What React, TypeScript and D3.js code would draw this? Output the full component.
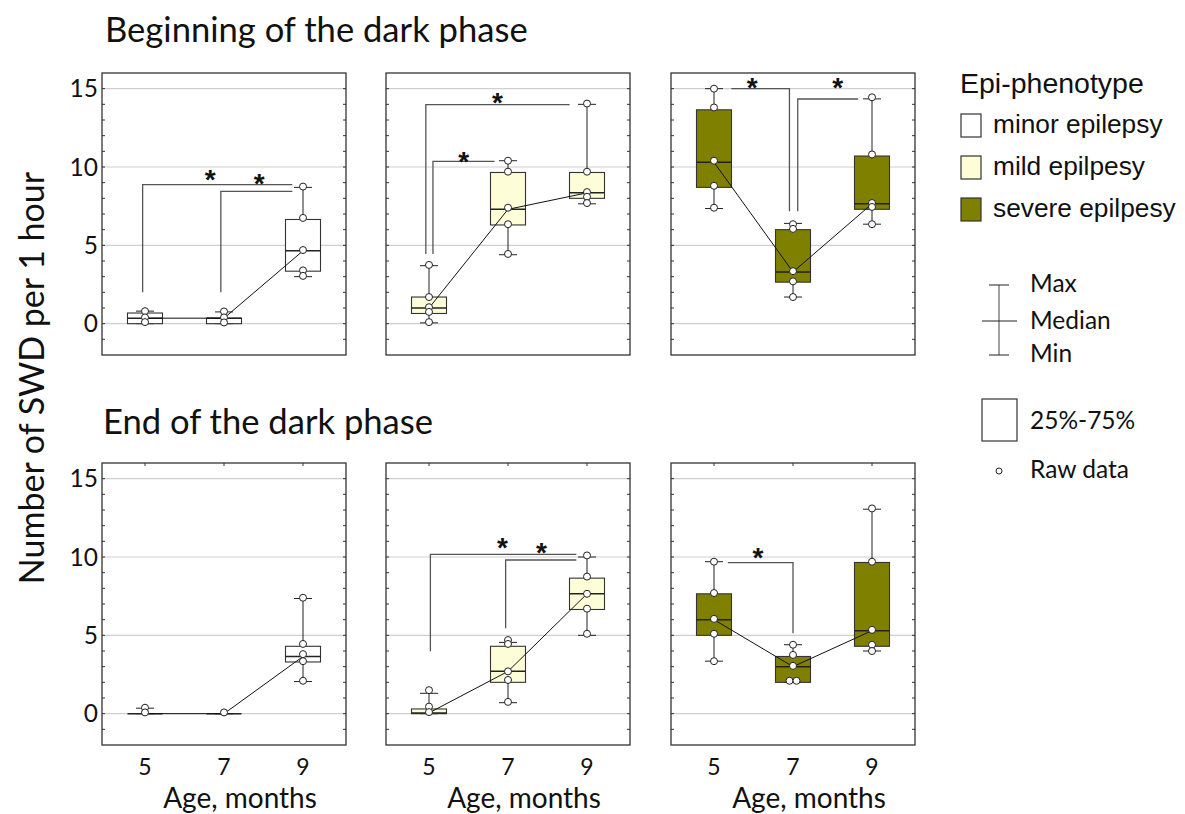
import React from 'react';
import * as d3 from 'd3';

// ages on the x axis and the group names
const ages = [5, 7, 9];
const phaseTitles = ['Beginning of the dark phase', 'End of the dark phase'];
const phenotypes = ['minor epilepsy', 'mild epilpesy', 'severe epilpesy'];
const phenoFills = ['#ffffff', '#fdfdd8', '#808000'];
const yTicks = [0, 5, 10, 15];

// box stats per age: [min, q1, median, q3, max]
const beginStats = [
  [[0, 0, 0.35, 0.68, 0.8], [0, 0, 0.35, 0.35, 0.75], [3.0, 3.35, 4.65, 6.65, 8.7]],
  [[0.05, 0.65, 1.0, 1.7, 3.7], [4.4, 6.3, 7.3, 9.65, 10.4], [7.65, 8.0, 8.35, 9.65, 14.0]],
  [[7.35, 8.7, 10.3, 13.65, 15.0], [1.7, 2.65, 3.3, 6.0, 6.4], [6.35, 7.3, 7.65, 10.7, 14.35]],
];
const endStats = [
  [[0, 0, 0, 0, 0.35], [0, 0, 0, 0, 0], [2.05, 3.3, 3.65, 4.3, 7.35]],
  [[0, 0, 0.05, 0.3, 1.3], [0.7, 2.0, 2.7, 4.3, 4.55], [5.0, 6.65, 7.65, 8.65, 10.0]],
  [[3.35, 5.0, 6.0, 7.65, 9.7], [2.0, 2.0, 3.0, 3.65, 4.4], [4.0, 4.3, 5.3, 9.65, 13.05]],
];

// raw data points per age
const beginRaw = [
  [[0.8, 0.4, 0.1], [0.78, 0.4, 0.08], [8.75, 6.75, 4.7, 3.4, 3.05]],
  [[3.75, 1.7, 1.05, 0.75, 0.1], [10.4, 9.7, 7.4, 6.35, 4.45], [14.05, 9.7, 8.4, 8.1, 7.7]],
  [[15.0, 13.8, 10.4, 8.8, 7.4], [6.35, 6.05, 3.35, 2.7, 1.7], [14.45, 10.8, 7.7, 7.45, 6.35]],
];
const endRaw = [
  [[0.38, 0.08], [0.08], [7.4, 4.45, 3.8, 3.35, 2.1]],
  [[1.5, 0.45, 0.1], [4.7, 4.45, 2.7, 2.15, 0.75], [10.1, 8.75, 7.65, 6.7, 5.1]],
  [[9.7, 7.7, 6.05, 5.1, 3.35], [4.4, 3.75, 3.05, 2.1, 2.1], [13.1, 9.7, 5.35, 4.4, 4.0]],
];

// significance brackets, in (age, value) units
const beginBrackets = [
  [
    { path: [[4.94, 2.0], [4.94, 8.87], [8.73, 8.87]], star: [6.65, 9.62] },
    { path: [[6.92, 2.0], [6.92, 8.45], [8.73, 8.45]], star: [7.89, 9.36] },
  ],
  [
    { path: [[4.92, 4.45], [4.92, 13.98], [8.56, 13.98]], star: [6.73, 14.51] },
    { path: [[5.1, 4.45], [5.1, 10.36], [6.66, 10.36]], star: [5.88, 10.79] },
  ],
  [
    { path: [[5.44, 15.0], [6.91, 15.0], [6.91, 7.17]], star: [5.97, 15.47] },
    { path: [[7.12, 7.17], [7.12, 14.34], [8.65, 14.34]], star: [8.13, 15.47] },
  ],
];
const endBrackets = [
  [],
  [
    { path: [[5.035, 3.98], [5.035, 10.17], [8.73, 10.17]], star: [6.86, 11.02] },
    { path: [[6.94, 5.45], [6.94, 9.81], [8.73, 9.81]], star: [7.85, 10.7] },
  ],
  [
    { path: [[5.35, 9.64], [7.0, 9.64], [7.0, 5.13]], star: [6.11, 10.38] },
  ],
];

const W = 1185;
const H = 814;
const panelLefts = [102, 386, 671];
const panelW = 244;
const panelH = 282;
const rowTops = [73, 463];
const FONT = 'Lato, "Open Sans", sans-serif';
const ARIAL = '"Liberation Sans", Arial, sans-serif';

const Panel = ({ left, top, stats, raw, brackets, fill, showY, showX, topTicks }) => {
  const x = d3.scaleLinear().domain([5, 9]).range([left + 43, left + 201]);
  const y = d3.scaleLinear().domain([-2, 16]).range([top + panelH, top]);
  const minorTicks = d3.range(-1, 16);
  const half = 17.5;
  const cap = 9;
  const line = d3.line().x(d => x(d[0])).y(d => y(d[1]));
  const medianLine = d3.line().x((d, i) => x(ages[i])).y(d => y(d[2]));

  return (
    <g>
      {yTicks.map(t => (
        <line key={'g' + t} x1={left} x2={left + panelW} y1={y(t)} y2={y(t)} stroke="#cfcfcf" strokeWidth={1.2} />
      ))}
      {minorTicks.map(t => (
        <g key={'m' + t}>
          <line x1={left} x2={left + 3} y1={y(t)} y2={y(t)} stroke="#333" />
          <line x1={left + panelW - 3} x2={left + panelW} y1={y(t)} y2={y(t)} stroke="#333" />
        </g>
      ))}
      {topTicks && ages.map(a => (
        <line key={'t' + a} x1={x(a)} x2={x(a)} y1={top} y2={top + 3} stroke="#333" />
      ))}
      {brackets.map((b, i) => (
        <g key={'b' + i}>
          <path d={line(b.path)} fill="none" stroke="#555" strokeWidth={1.3} />
          <text x={x(b.star[0])} y={y(b.star[1]) + 16} textAnchor="middle" fontFamily={ARIAL}
            fontWeight="bold" fontSize={28} fill="#111">*</text>
        </g>
      ))}
      {stats.map((s, i) => {
        const cx = x(ages[i]);
        return (
          <g key={'s' + i}>
            <line x1={cx} x2={cx} y1={y(s[4])} y2={y(s[3])} stroke="#222" />
            <line x1={cx} x2={cx} y1={y(s[1])} y2={y(s[0])} stroke="#222" />
            <line x1={cx - cap} x2={cx + cap} y1={y(s[4])} y2={y(s[4])} stroke="#222" />
            <line x1={cx - cap} x2={cx + cap} y1={y(s[0])} y2={y(s[0])} stroke="#222" />
            <rect x={cx - half} y={y(s[3])} width={half * 2} height={Math.max(0, y(s[1]) - y(s[3]))}
              fill={fill} stroke="#333" strokeWidth={1.1} />
            <line x1={cx - half} x2={cx + half} y1={y(s[2])} y2={y(s[2])} stroke="#222" strokeWidth={1.5} />
          </g>
        );
      })}
      <path d={medianLine(stats)} fill="none" stroke="#111" strokeWidth={1} />
      {raw.map((pts, i) =>
        pts.map((v, j) => {
          // spread identical values sideways
          const same = pts.filter(p => p === v);
          const k = pts.slice(0, j).filter(p => p === v).length;
          const dx = same.length > 1 ? (k - (same.length - 1) / 2) * 7 : 0;
          return (
            <circle key={'p' + i + '-' + j} cx={x(ages[i]) + dx} cy={y(v)} r={3.5}
              fill="#fff" stroke="#222" strokeWidth={1} />
          );
        })
      )}
      <rect x={left} y={top} width={panelW} height={panelH} fill="none" stroke="#333" strokeWidth={1.3} />
      {showY && yTicks.map(t => (
        <text key={'yl' + t} x={left - 4} y={y(t) + 8.5} textAnchor="end" fontFamily={FONT} fontSize={24.5} fill="#111">{t}</text>
      ))}
      {showX && ages.map(a => (
        <text key={'xl' + a} x={x(a)} y={775} textAnchor="middle" fontFamily={FONT} fontSize={23} fill="#111">{a}</text>
      ))}
      {showX && (
        <text x={left + 138} y={808} textAnchor="middle" fontFamily={FONT} fontSize={28} fill="#111">Age, months</text>
      )}
    </g>
  );
};

const Legend = () => {
  const rows = [125, 167, 209];
  return (
    <g>
      <text x={960} y={93} fontFamily={ARIAL} fontSize={28.5} fill="#111">Epi-phenotype</text>
      {phenotypes.map((p, i) => (
        <g key={p}>
          <rect x={961} y={rows[i] - 11} width={20} height={23} fill={phenoFills[i]} stroke="#333" strokeWidth={1.2} />
          <text x={993} y={rows[i] + 8} fontFamily={ARIAL} fontSize={26.3} fill="#111">{p}</text>
        </g>
      ))}
      <line x1={999} x2={999} y1={285} y2={355} stroke="#444" />
      <line x1={989} x2={1009} y1={285} y2={285} stroke="#222" />
      <line x1={982} x2={1017} y1={321} y2={321} stroke="#222" />
      <line x1={989} x2={1009} y1={355} y2={355} stroke="#222" />
      <text x={1030} y={292} fontFamily={FONT} fontSize={24.5} fill="#111">Max</text>
      <text x={1030} y={329} fontFamily={FONT} fontSize={24.5} fill="#111">Median</text>
      <text x={1030} y={362} fontFamily={FONT} fontSize={24.5} fill="#111">Min</text>
      <rect x={982} y={399} width={35} height={42} fill="#fff" stroke="#333" strokeWidth={1.2} />
      <text x={1030} y={429} fontFamily={FONT} fontSize={24.5} fill="#111">25%-75%</text>
      <circle cx={999} cy={471} r={3} fill="#fff" stroke="#222" />
      <text x={1030} y={478} fontFamily={FONT} fontSize={24.5} fill="#111">Raw data</text>
    </g>
  );
};

const App = () => {
  const rows = [
    { stats: beginStats, raw: beginRaw, brackets: beginBrackets },
    { stats: endStats, raw: endRaw, brackets: endBrackets },
  ];
  return (
    <svg width={W} height={H} style={{ position: 'absolute', left: 0, top: 0, background: '#fff' }}>
      <text x={105} y={42} fontFamily={FONT} fontSize={34.6} fill="#111">{phaseTitles[0]}</text>
      <text x={103} y={434} fontFamily={FONT} fontSize={34.6} fill="#111">{phaseTitles[1]}</text>
      <text transform="translate(44, 378) rotate(-90)" textAnchor="middle" fontFamily={FONT} fontSize={34} fill="#111">
        Number of SWD per 1 hour
      </text>
      {rows.map((r, ri) =>
        panelLefts.map((left, pi) => (
          <Panel key={ri + '-' + pi} left={left} top={rowTops[ri]} stats={r.stats[pi]} raw={r.raw[pi]}
            brackets={r.brackets[pi]} fill={phenoFills[pi]} showY={pi === 0} showX={ri === 1} topTicks={ri === 1} />
        ))
      )}
      <Legend />
    </svg>
  );
};

export default App;
